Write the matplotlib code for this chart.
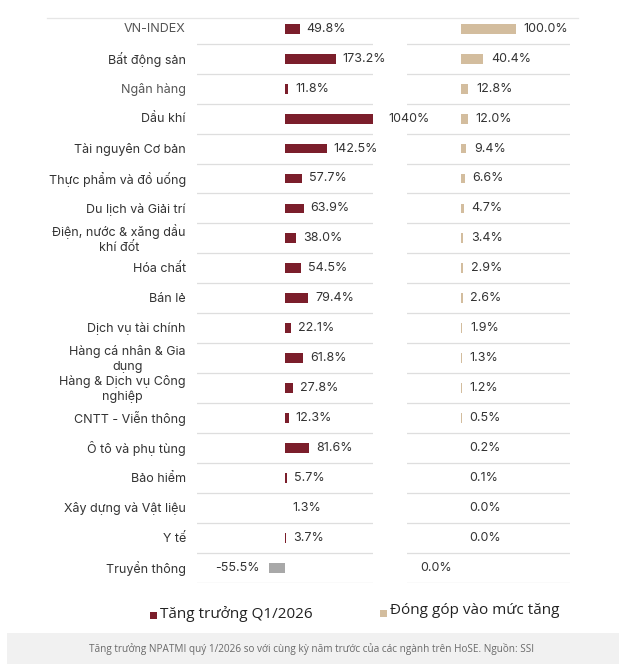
import numpy as np
import matplotlib
matplotlib.use("Agg")
import matplotlib.pyplot as plt
from matplotlib.patches import Rectangle
from matplotlib.lines import Line2D

# Sector names (HoSE), growth of NPATMI Q1/2026 and contribution to the increase
sectors = [
    "VN-INDEX", "Bất động sản", "Ngân hàng", "Dầu khí", "Tài nguyên Cơ bản",
    "Thực phẩm và đồ uống", "Du lịch và Giải trí", "Điện, nước & xăng dầu\nkhí đốt",
    "Hóa chất", "Bán lẻ", "Dịch vụ tài chính", "Hàng cá nhân & Gia\ndụng",
    "Hàng & Dịch vụ Công\nnghiệp", "CNTT - Viễn thông", "Ô tô và phụ tùng",
    "Bảo hiểm", "Xây dựng và Vật liệu", "Y tế", "Truyền thông",
]
growth = [49.8, 173.2, 11.8, 1040, 142.5, 57.7, 63.9, 38.0, 54.5, 79.4,
          22.1, 61.8, 27.8, 12.3, 81.6, 5.7, 1.3, 3.7, -55.5]
contribution = [100.0, 40.4, 12.8, 12.0, 9.4, 6.6, 4.7, 3.4, 2.9, 2.6,
                1.9, 1.3, 1.2, 0.5, 0.2, 0.1, 0.0, 0.0, 0.0]
light_labels = ["VN-INDEX", "Ngân hàng"]

RED = "#7b1e2b"
TAN = "#d3bd9e"
GREY = "#a8a8a8"
LINE = "#dedede"
TXT = "#333333"

plt.rcParams["font.family"] = ["Inter", "DejaVu Sans"]

W, H = 627, 669
fig = plt.figure(figsize=(W / 100, H / 100), dpi=100)
fig.patch.set_facecolor("white")

def fx(px):
    return px / W

def fy(py):
    return 1 - py / H

bottom, top = fy(583), fy(13.7)
ax1 = fig.add_axes([fx(197), bottom, fx(373 - 197), top - bottom])
ax2 = fig.add_axes([fx(407), bottom, fx(570 - 407), top - bottom])

y = np.arange(len(sectors))
n = len(sectors)

# growth panel: bars clipped by the axis limits (1040% runs off the edge)
g = np.array(growth, dtype=float)
colors1 = [RED if v >= 0 else GREY for v in g]
ax1.barh(y, g, height=0.33, color=colors1)
ax1.set_xlim(-300, 300)

for i, v in enumerate(g):
    lab = f"{v:.0f}%" if abs(v) >= 1000 else f"{v:.1f}%"
    if v > ax1.get_xlim()[1]:
        ax1.annotate(lab, (ax1.get_xlim()[1], i), xytext=(11, 0), textcoords="offset points",
                     ha="left", va="center", fontsize=9, color=TXT, annotation_clip=False)
    elif v >= 0:
        ax1.annotate(lab, (v, i), xytext=(5, 0), textcoords="offset points",
                     ha="left", va="center", fontsize=9, color=TXT)
    else:
        ax1.annotate(lab, (v, i), xytext=(-6.5, 0), textcoords="offset points",
                     ha="right", va="center", fontsize=9, color=TXT)

# contribution panel
c = np.array(contribution, dtype=float)
ax2.barh(y, c, height=0.33, color=TAN)
ax2.set_xlim(-100, 200)
for i, v in enumerate(c):
    if growth[i] < 0:
        ax2.annotate(f"{v:.1f}%", (v, i), xytext=(-6.5, 0), textcoords="offset points",
                     ha="right", va="center", fontsize=9, color=TXT)
    else:
        ax2.annotate(f"{v:.1f}%", (v, i), xytext=(5.5, 0), textcoords="offset points",
                     ha="left", va="center", fontsize=9, color=TXT)

for ax in (ax1, ax2):
    ax.set_ylim(n - 0.5, -0.5)
    ax.axis("off")
    for k in range(n):
        ax.axhline(k + 0.5, color=LINE, lw=0.9, zorder=0)

# category labels on the left
for i, name in enumerate(sectors):
    col = "#555555" if name in light_labels else TXT
    ax1.annotate(name, (0, i), xycoords=("axes fraction", "data"), xytext=(-8, -0.5),
                 textcoords="offset points", ha="right", va="center",
                 multialignment="center", fontsize=9, color=col, linespacing=1.25)

# top rule across the table
fig.add_artist(Line2D([fx(47), fx(578)], [fy(18.3), fy(18.3)], color="#e6e6e6", lw=0.9))

# legend
fig.add_artist(Rectangle((fx(150), fy(619)), fx(7), 7 / H, color=RED, lw=0))
fig.text(fx(160), fy(614.5), "Tăng trưởng Q1/2026", fontsize=11, color="#222222",
         ha="left", va="center", family=["Open Sans", "DejaVu Sans"])
fig.add_artist(Rectangle((fx(380), fy(617)), fx(7), 7 / H, color=TAN, lw=0))
fig.text(fx(390), fy(610.5), "Đóng góp vào mức tăng", fontsize=11, color="#222222",
         ha="left", va="center", family=["Open Sans", "DejaVu Sans"])

# caption box
fig.add_artist(Rectangle((fx(7), fy(664)), fx(612), 31 / H, color="#f1f1f1", lw=0))
fig.text(fx(312), fy(649), "Tăng trưởng NPATMI quý 1/2026 so với cùng kỳ năm trước của các ngành trên HoSE. Nguồn: SSI",
         fontsize=7.2, color="#6a6a6a", ha="center", va="center",
         family=["Open Sans", "DejaVu Sans"])

fig.savefig("out.png", dpi=100, facecolor="white")
